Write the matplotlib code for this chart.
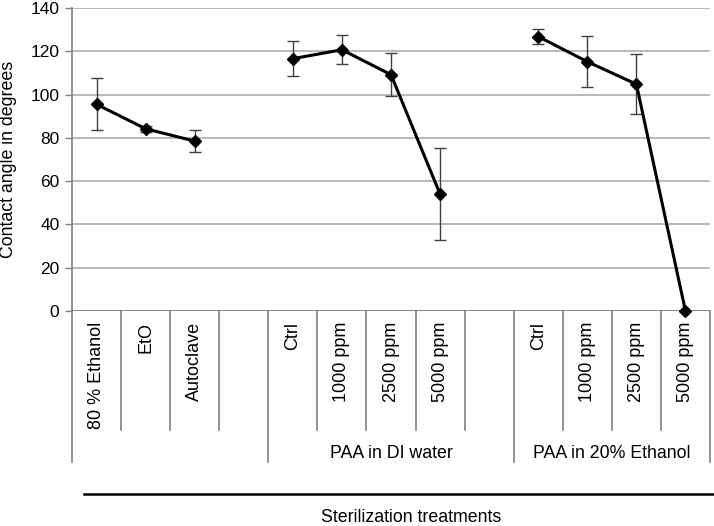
import matplotlib
matplotlib.use("Agg")
import matplotlib.pyplot as plt
import numpy as np
from matplotlib.transforms import blended_transform_factory

plt.rcParams['font.family'] = ['Liberation Sans', 'DejaVu Sans']

# ---- data ----
categories = ["80 % Ethanol", "EtO", "Autoclave", "",
              "Ctrl", "1000 ppm", "2500 ppm", "5000 ppm", "",
              "Ctrl", "1000 ppm", "2500 ppm", "5000 ppm"]
group_names = ["", "PAA in DI water", "PAA in 20% Ethanol"]
group_spans = [(0, 3), (4, 8), (9, 12)]   # slot index ranges (inclusive)

g1_x = [0, 1, 2]
g1_y = [95.5, 84.2, 78.5]
g1_err = [12.0, 1.5, 5.0]

g2_x = [4, 5, 6, 7]
g2_y = [116.6, 120.7, 109.2, 54.0]
g2_err = [8.0, 6.7, 9.9, 21.2]

g3_x = [9, 10, 11, 12]
g3_y = [126.8, 115.2, 104.8, 0.0]
g3_err = [3.3, 11.7, 13.8, 0.0]

yticks = [0, 20, 40, 60, 80, 100, 120, 140]

# ---- figure ----
W, H = 714, 526
fig = plt.figure(figsize=(W / 100, H / 100), dpi=100)
ax_l, ax_r, ax_t, ax_b = 72, 710, 8, 311
ax = fig.add_axes([ax_l / W, (H - ax_b) / H, (ax_r - ax_l) / W, (ax_b - ax_t) / H])

ax.set_xlim(-0.5, len(categories) - 0.5)
ax.set_ylim(0, 140)
ax.set_yticks(yticks)
ax.set_yticklabels([str(v) for v in yticks], fontsize=12.5)
ax.set_xticks([])
ax.tick_params(axis='y', direction='out', length=5, width=1, color='#808080', pad=4)
for s in ['top', 'right', 'bottom']:
    ax.spines[s].set_visible(False)
ax.spines['left'].set_color('#808080')
ax.spines['left'].set_linewidth(1.2)
ax.yaxis.grid(True, color='#b4b4b4', linewidth=1.3)
ax.set_axisbelow(True)
ax.axhline(0, color='#808080', linewidth=1.2, zorder=1)

for xs, ys, es in [(g1_x, g1_y, g1_err), (g2_x, g2_y, g2_err), (g3_x, g3_y, g3_err)]:
    errs = np.array(es, dtype=float)
    mask = errs > 0
    ax.errorbar(np.array(xs)[mask], np.array(ys)[mask], yerr=errs[mask], fmt='none',
                ecolor='#404040', elinewidth=1.0, capsize=4, capthick=1.0, zorder=3)
    ax.plot(xs, ys, color='black', linewidth=2.2, marker='D', markersize=6.5,
            markerfacecolor='black', markeredgecolor='black', zorder=4, clip_on=False)

ax.set_ylabel("Contact angle in degrees", fontsize=12.8)
ax.yaxis.set_label_coords(-(ax_l - 17) / (ax_r - ax_l), 0.5)

# ---- category table below axis ----
trans = blended_transform_factory(ax.transData, ax.transAxes)
hpx = ax_b - ax_t
def ay(py):
    return (ax_b - py) / hpx

inner_bottom = ay(430)
outer_bottom = ay(462)
outer_edges = [-0.5, 3.5, 8.5, 12.5]
for k in range(len(categories) + 1):
    xe = k - 0.5
    yb = outer_bottom if xe in outer_edges else inner_bottom
    ax.plot([xe, xe], [0, yb], transform=trans, color='#808080', linewidth=1.2,
            clip_on=False)

for i, lab in enumerate(categories):
    if lab:
        ax.text(i, ay(322), lab, transform=trans, rotation=90, ha='center', va='top',
                fontsize=13, color='black')

for name, (a, b) in zip(group_names, group_spans):
    if name:
        ax.text((a + b) / 2, ay(454), name, transform=trans, ha='center', va='center',
                fontsize=12.8, color='black')

# bottom axis-title line
fig.add_artist(plt.Line2D([84 / W, 1.0], [(H - 494) / H] * 2, transform=fig.transFigure,
                          color='black', linewidth=1.8))
fig.text(411 / W, (H - 518) / H, "Sterilization treatments", ha='center', va='center',
         fontsize=12.8)

fig.savefig("out.png", dpi=100)
